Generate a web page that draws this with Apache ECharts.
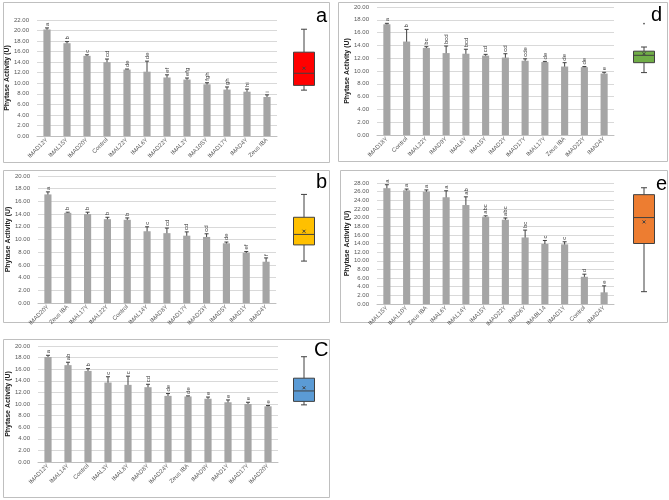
<!DOCTYPE html>
<html>
<head>
<meta charset="utf-8">
<script src="https://cdn.jsdelivr.net/npm/echarts@6/dist/echarts.min.js"></script>
<style>html,body{margin:0;padding:0;background:#fff}#c{width:669px;height:500px}</style>
</head>
<body>
<div id="c"></div>
<script>
// ---- Panel a ----
const catsA = ['IMAD12Y','IMAL15Y','IMAD20Y','Control','IMAL22Y','IMAL6Y','IMAD22Y','IMAL2Y','IMA10SY','IMAD17Y','IMAD4Y','Zeus IBA'];
const valsA = [20.2, 17.6, 15.2, 14.0, 12.6, 12.2, 11.1, 10.7, 9.8, 8.8, 8.4, 7.4];
const errsA = [0.3, 0.3, 0.2, 0.6, 0.1, 2.0, 0.5, 0.3, 0.3, 0.5, 0.5, 0.4];
const sigA  = ['a','b','c','cd','de','de','ef','efg','fgh','gh','hi','i'];
const boxA  = [8.7, 9.6, 11.9, 15.9, 20.25, 12.85]; // min, q1, median, q3, max, mean
// ---- Panel b ----
const catsB = ['IMAD20Y','Zeus IBA','IMAL17Y','IMAL22Y','Control','IMAL14Y','IMAD8Y','IMAD17Y','IMAD23Y','IMAD5Y','IMAD1Y','IMAD4Y'];
const valsB = [17.1, 14.2, 14.0, 13.2, 13.1, 11.3, 11.0, 10.6, 10.4, 9.4, 7.9, 6.5];
const errsB = [0.4, 0.1, 0.3, 0.3, 0.3, 0.7, 0.8, 0.6, 0.5, 0.2, 0.2, 0.6];
const sigB  = ['a','b','b','b','b','c','cd','cd','cd','de','ef','f'];
const boxB  = [6.6, 9.15, 10.8, 13.5, 17.1, 11.3];
// ---- Panel c ----
const catsC = ['IMAD12Y','IMAL14Y','Control','IMAL3Y','IMAL8Y','IMAD8Y','IMAD24Y','Zeus IBA','IMAD9Y','IMAD1Y','IMAD17Y','IMAD20Y'];
const valsC = [18.1, 16.7, 15.7, 13.7, 13.3, 12.9, 11.4, 11.3, 10.9, 10.3, 10.0, 9.6];
const errsC = [0.3, 0.5, 0.4, 1.0, 1.5, 0.5, 0.4, 0.1, 0.3, 0.4, 0.3, 0.15];
const sigC  = ['a','ab','b','c','c','cd','de','de','e','e','e','e'];
const boxC  = [9.85, 10.45, 12.25, 14.45, 18.15, 12.8];
// ---- Panel d ----
const catsD = ['IMAD18Y','Control','IMAL22Y','IMAD9Y','IMAL6Y','IMA15Y','IMAD2Y','IMAD17Y','IMAL17Y','Zeus IBA','IMAD22Y','IMAD4Y'];
const valsD = [17.3, 14.6, 13.6, 12.8, 12.7, 12.4, 12.1, 11.6, 11.4, 10.7, 10.6, 9.6];
const errsD = [0.15, 1.9, 0.2, 1.1, 0.7, 0.2, 0.6, 0.3, 0.1, 0.6, 0.1, 0.2];
const sigD  = ['a','b','bc','bcd','bcd','cd','cd','cde','de','de','de','e'];
const boxD  = [9.75, 11.3, 12.45, 13.1, 13.75, 12.7];
const outD  = [17.4];
// ---- Panel e ----
const catsE = ['IMAL15Y','IMAL10Y','Zeus IBA','IMAL6Y','IMAL14Y','IMA15Y','IMAD22Y','IMAD6Y','IMABL14','IMAD1Y','Control','IMAD4Y'];
const valsE = [26.8, 26.3, 26.0, 24.7, 22.9, 20.2, 19.5, 15.4, 13.9, 13.8, 6.3, 2.7];
const errsE = [0.8, 0.3, 0.4, 1.5, 1.9, 0.2, 0.4, 1.7, 0.8, 0.6, 0.6, 1.5];
const sigE  = ['a','a','a','a','ab','abc','abc','bc','c','c','d','e'];
const boxE  = [2.85, 14.0, 20.0, 25.3, 26.9, 19.0];

const panels = [
  {name:'a', cats:catsA, vals:valsA, errs:errsA, sig:sigA, box:boxA, out:[], color:'#ff0000', max:22,
   grid:{left:37, top:20, width:240, height:116}, boxLeft:293, frame:[3,2,326,160], lab:[316,6]},
  {name:'b', cats:catsB, vals:valsB, errs:errsB, sig:sigB, box:boxB, out:[], color:'#ffc000', max:20,
   grid:{left:38, top:176, width:238, height:127}, boxLeft:293, frame:[3,170,326,152], lab:[316,172]},
  {name:'C', cats:catsC, vals:valsC, errs:errsC, sig:sigC, box:boxC, out:[], color:'#5b9bd5', max:20,
   grid:{left:38, top:346, width:240, height:116}, boxLeft:293, frame:[3,339,326,158], lab:[314,340]},
  {name:'d', cats:catsD, vals:valsD, errs:errsD, sig:sigD, box:boxD, out:outD, color:'#70ad47', max:20,
   grid:{left:377, top:7, width:237, height:128}, boxLeft:633, frame:[338,2,329,159], lab:[651,5]},
  {name:'e', cats:catsE, vals:valsE, errs:errsE, sig:sigE, box:boxE, out:[], color:'#ed7d31', max:28,
   grid:{left:377, top:183, width:237, height:121}, boxLeft:633, frame:[340,170,327,152], lab:[656,174]}
];

const grids = [], xAxes = [], yAxes = [], series = [], graphics = [];
const txt = '#595959';
panels.forEach((p, i) => {
  const gb = 2*i, gx = 2*i+1;
  grids.push(Object.assign({}, p.grid));
  grids.push({left:p.boxLeft, top:p.grid.top, width:22, height:p.grid.height});
  xAxes.push({type:'category', gridIndex:gb, data:p.cats,
    axisTick:{show:false}, axisLine:{lineStyle:{color:'#bfbfbf'}},
    axisLabel:{rotate:45, interval:0, fontSize:6, color:txt, margin:3, fontFamily:'Liberation Sans'}});
  xAxes.push({type:'category', gridIndex:gx, data:['x'], show:false});
  yAxes.push({type:'value', gridIndex:gb, min:0, max:p.max, interval:2,
    axisLine:{show:false}, axisTick:{show:false},
    splitLine:{lineStyle:{color:'#d9d9d9', width:1}},
    axisLabel:{formatter:v=>v.toFixed(2), fontSize:6, color:txt, margin:8, fontFamily:'Liberation Sans'},
    name:'Phytase Activity (U)', nameLocation:'middle', nameRotate:90, nameGap:26,
    nameTextStyle:{fontSize:7, color:'#222', fontWeight:'bold', fontFamily:'Liberation Sans'}});
  yAxes.push({type:'value', gridIndex:gx, min:0, max:p.max, show:false});

  series.push({type:'bar', xAxisIndex:gb, yAxisIndex:gb, data:p.vals, barWidth:'36%',
    itemStyle:{color:'#a5a5a5'}, silent:true, animation:false});
  const sig = p.sig;
  series.push({type:'custom', xAxisIndex:gb, yAxisIndex:gb, animation:false, silent:true,
    data:p.vals.map((v,k)=>[k, v, p.errs[k]]),
    encode:{x:0, y:1},
    renderItem:(params, api)=>{
      const x = api.value(0), v = api.value(1), e = api.value(2);
      const top = api.coord([x, v+e]), bot = api.coord([x, v-e]);
      const st = {stroke:'#404040', lineWidth:1};
      return {type:'group', children:[
        {type:'line', shape:{x1:top[0], y1:top[1], x2:bot[0], y2:bot[1]}, style:st},
        {type:'line', shape:{x1:top[0]-2, y1:top[1], x2:top[0]+2, y2:top[1]}, style:st},
        {type:'line', shape:{x1:bot[0]-2, y1:bot[1], x2:bot[0]+2, y2:bot[1]}, style:st},
        {type:'text', x:top[0], y:top[1]-2, rotation:Math.PI/2,
          style:{text:sig[params.dataIndex], fontSize:6, fill:'#404040', align:'left', verticalAlign:'middle', fontFamily:'Liberation Sans'}}
      ]};
    }});
  const b = p.box, color = p.color, outs = p.out;
  series.push({type:'custom', xAxisIndex:gx, yAxisIndex:gx, animation:false, silent:true,
    data:[[0, b[0], b[1], b[2], b[3], b[4], b[5]]],
    encode:{x:0, y:[1,2,3,4,5]},
    renderItem:(params, api)=>{
      const cx = api.coord([0, 0])[0];
      const hw = 10.5;
      const y = k => api.coord([0, api.value(k)])[1];
      const ymin=y(1), yq1=y(2), ymed=y(3), yq3=y(4), ymax=y(5), ymean=y(6);
      const st = {stroke:'#404040', lineWidth:1};
      const ch = [
        {type:'line', shape:{x1:cx, y1:ymax, x2:cx, y2:yq3}, style:st},
        {type:'line', shape:{x1:cx, y1:ymin, x2:cx, y2:yq1}, style:st},
        {type:'line', shape:{x1:cx-3, y1:ymax, x2:cx+3, y2:ymax}, style:st},
        {type:'line', shape:{x1:cx-3, y1:ymin, x2:cx+3, y2:ymin}, style:st},
        {type:'rect', shape:{x:cx-hw, y:yq3, width:2*hw, height:yq1-yq3}, style:{fill:color, stroke:'#404040', lineWidth:1}},
        {type:'line', shape:{x1:cx-hw, y1:ymed, x2:cx+hw, y2:ymed}, style:st},
        {type:'line', shape:{x1:cx-1.5, y1:ymean-1.5, x2:cx+1.5, y2:ymean+1.5}, style:st},
        {type:'line', shape:{x1:cx-1.5, y1:ymean+1.5, x2:cx+1.5, y2:ymean-1.5}, style:st}
      ];
      outs.forEach(o=>{
        const oy = api.coord([0, o])[1];
        ch.push({type:'circle', shape:{cx:cx, cy:oy, r:0.8}, style:{fill:'#404040'}});
      });
      return {type:'group', children:ch};
    }});

  const f = p.frame;
  graphics.push({type:'rect', shape:{x:f[0]+0.5, y:f[1]+0.5, width:f[2], height:f[3]},
    style:{fill:null, stroke:'#bfbfbf', lineWidth:1}, silent:true});
  graphics.push({type:'text', x:p.lab[0], y:p.lab[1],
    style:{text:p.name, fontSize:20, fill:'#000', fontFamily:'Liberation Sans'}, silent:true});
});

const chart = echarts.init(document.getElementById('c'), null, {renderer:'canvas'});
chart.setOption({
  backgroundColor:'#fff',
  animation:false,
  grid:grids, xAxis:xAxes, yAxis:yAxes, series:series, graphic:graphics
});
</script>
</body>
</html>
